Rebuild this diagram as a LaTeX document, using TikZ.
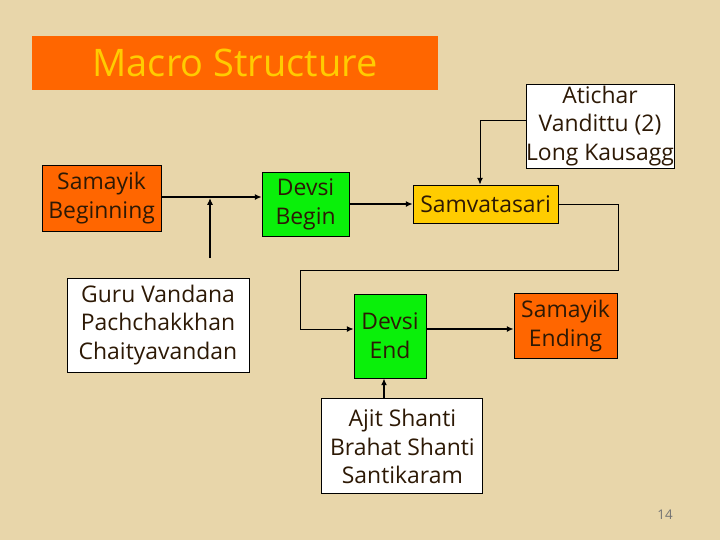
\documentclass[tikz,border=0pt]{standalone}
\usepackage{fontspec}
\setmainfont{Open Sans}
\usepackage{xcolor}
\usepackage{tikz}
\usetikzlibrary{arrows.meta,positioning,calc}

\definecolor{parch}{RGB}{232,214,170}
\definecolor{hot}{RGB}{255,102,0}
\definecolor{leaf}{RGB}{10,240,10}
\definecolor{gold}{RGB}{255,204,0}
\definecolor{ink}{RGB}{45,25,5}

\begin{document}
\begin{tikzpicture}[
      font=\fontsize{16.3}{20.5}\selectfont,
      stage/.style={draw, align=center, inner sep=0pt, line width=0.6pt,
                    text=ink},
      link/.style={->, line width=1.4pt},
      feed/.style={->, line width=0.7pt},
      >={Latex[length=1.7mm,width=1.5mm]}]

    \fill[parch] (0mm,0mm) rectangle (180mm,-135mm);

    \node[fill=hot, minimum width=101.5mm, minimum height=13.5mm, text=gold,
          font=\fontsize{27}{32}\selectfont] (title) at (58.75mm,-15.75mm)
      {Macro Structure};

    \node[stage, fill=hot, minimum width=29.75mm, minimum height=16.5mm] (sbeg)
      at (25.4mm,-49.5mm) {Samayik\\Beginning};
    \node[stage, fill=leaf, minimum width=21.75mm, minimum height=16mm] (dbeg)
      at (76.4mm,-51mm) {Devsi\\Begin};
    \node[stage, fill=white, minimum width=45.5mm, minimum height=23.5mm] (guru)
      at (39.5mm,-81.25mm) {Guru Vandana\\Pachchakkhan\\Chaityavandan};
    \node[stage, fill=white, minimum width=36mm, minimum height=21mm] (atic)
      at (150mm,-31.5mm) {Atichar\\Vandittu (2)\\Long Kausagg};
    \node[stage, fill=gold, minimum width=36.25mm, minimum height=9.5mm] (samv)
      at (121.4mm,-51mm) {Samvatasari};
    \node[stage, fill=leaf, minimum width=18mm, minimum height=21mm] (dend)
      at (97.5mm,-84mm) {Devsi\\End};
    \node[stage, fill=hot, minimum width=25.75mm, minimum height=16.25mm] (send)
      at (141.4mm,-81.6mm) {Samayik\\Ending};
    \node[stage, fill=white, minimum width=40.25mm, minimum height=23.75mm] (ajit)
      at (100.6mm,-111.6mm) {Ajit Shanti\\Brahat Shanti\\Santikaram};

    \node[text=black!55, font=\fontsize{9.5}{11}\selectfont] (page)
      at (166.25mm,-128.75mm) {14};

    % the side lists join the main line from below; the loop from Samvatasari
    % runs round to the right and back under it before entering Devsi End
    \coordinate (gtop) at (52.5mm,-64.5mm);
    \coordinate (loopa) at (154.5mm,-67.5mm);
    \coordinate (loopb) at (75mm,-67.5mm);

    \draw[link] ([yshift=0.25mm]sbeg.east) -- ([yshift=0.25mm]sbeg.east -| dbeg.west);
    \draw[link] (gtop) -- (gtop |- sbeg.east);
    \draw[link] (dbeg) -- (samv);
    \draw[feed] ([yshift=1.5mm]atic.west) -| ([xshift=-1.4mm]samv.north);
    \draw[feed] (samv.east) -| (loopa) -- (loopb) |- ([yshift=1.75mm]dend.west);
    \draw[link] ([yshift=1.75mm]dend.east) -- ([yshift=1.75mm]dend.east -| send.west);
    \draw[link] ([xshift=-1.5mm]dend.south |- ajit.north) -- ([xshift=-1.5mm]dend.south);
  \end{tikzpicture}
\end{document}
